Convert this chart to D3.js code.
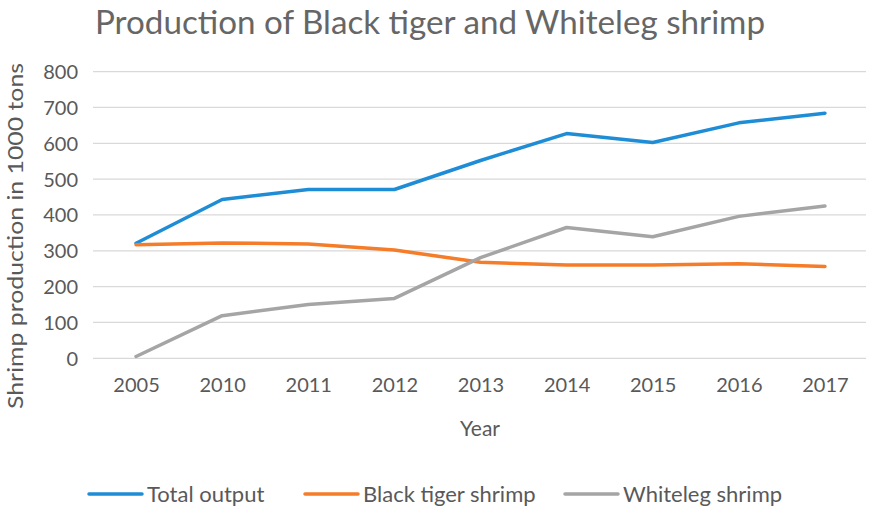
<!DOCTYPE html>
<html><head><meta charset="utf-8">
<script src="https://cdn.jsdelivr.net/npm/d3@7"></script>
<style>
body{margin:0;background:#fff;}
text{font-family:Lato,"Open Sans",sans-serif;fill:#595959;}
</style></head>
<body><svg id="c" width="869" height="509"></svg>
<script>
const years = ["2005","2010","2011","2012","2013","2014","2015","2016","2017"];
const totalOutput = [321,443,471,471,552,627,602,657,684];
const blackTiger = [317,322,319,302,268,260,260,264,256];
const whiteleg = [5,119,150,167,281,365,339,396,425];
const yTicks = [0,100,200,300,400,500,600,700,800];
const seriesNames = ["Total output","Black tiger shrimp","Whiteleg shrimp"];
const colors = ["#1F8DD6","#F57C28","#A5A5A5"];

const svg = d3.select("#c");
const x = d3.scalePoint().domain(years).range([93,868]).padding(0.5);
const y = d3.scaleLinear().domain([0,800]).range([358.3,71.6]);

// gridlines
svg.append("g").selectAll("line").data(yTicks).join("line")
  .attr("x1",93).attr("x2",866)
  .attr("y1",d=>y(d)).attr("y2",d=>y(d))
  .attr("stroke","#D9D9D9").attr("stroke-width",1.3);

// y axis labels
const ya = svg.append("g").attr("transform","translate(78,0)")
  .call(d3.axisLeft(y).tickValues(yTicks).tickSize(0).tickPadding(0));
ya.select(".domain").remove();
ya.selectAll("text").style("font-size","20px").attr("fill","#595959").attr("dy","0.35em");

// x axis labels
const xa = svg.append("g").attr("transform","translate(0,378)")
  .call(d3.axisBottom(x).tickSize(0).tickPadding(0));
xa.select(".domain").remove();
xa.selectAll("text").style("font-size","20px").attr("fill","#595959").attr("dy","0.71em");

const data = [totalOutput, blackTiger, whiteleg];
const line = d3.line().x((d,i)=>x(years[i])).y(d=>y(d));
svg.append("g").selectAll("path").data(data).join("path")
  .attr("d",d=>line(d)).attr("fill","none")
  .attr("stroke",(d,i)=>colors[i]).attr("stroke-width",3.5)
  .attr("stroke-linejoin","round").attr("stroke-linecap","round");

// title
svg.append("text").attr("x",95).attr("y",34)
  .attr("textLength",670).attr("lengthAdjust","spacingAndGlyphs")
  .style("font-size","33px").style("font-weight",400).style("fill","#666")
  .text("Production of Black tiger and Whiteleg shrimp");

// axis titles
svg.append("text").attr("x",480).attr("y",436).attr("text-anchor","middle")
  .style("font-size","21px").text("Year");
svg.append("text").attr("transform","translate(23,236) rotate(-90)")
  .attr("text-anchor","middle").style("font-size","22px")
  .attr("textLength",346).attr("lengthAdjust","spacingAndGlyphs")
  .text("Shrimp production in 1000 tons");

// legend
const legX = [89,305,565];
const lg = svg.append("g").selectAll("g").data(seriesNames).join("g")
  .attr("transform",(d,i)=>`translate(${legX[i]},494)`);
lg.append("line").attr("x1",0).attr("x2",53).attr("y1",0).attr("y2",0)
  .attr("stroke",(d,i)=>colors[i]).attr("stroke-width",3.5).attr("stroke-linecap","round");
lg.append("text").attr("x",58).attr("y",0).attr("dy","0.35em")
  .style("font-size","22px").text(d=>d);
</script></body></html>
